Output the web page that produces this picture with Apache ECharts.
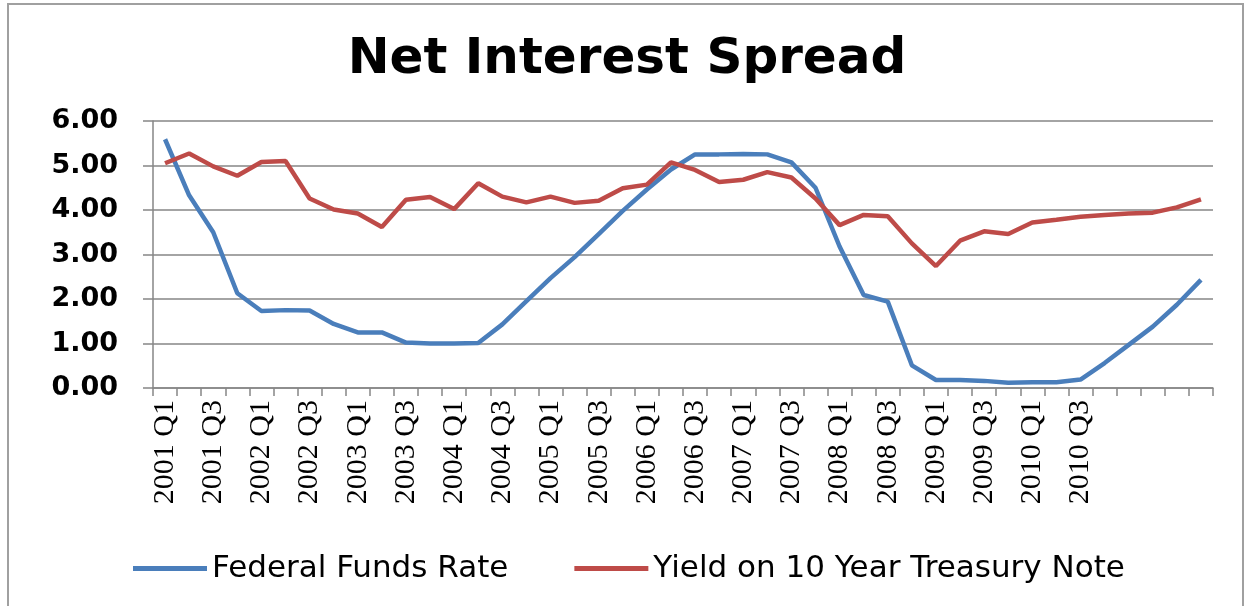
<!DOCTYPE html>
<html>
<head>
<meta charset="utf-8">
<script src="https://cdn.jsdelivr.net/npm/echarts@6/dist/echarts.min.js"></script>
<style>html,body{margin:0;padding:0;background:#fff}#c{width:1254px;height:606px}</style>
</head>
<body>
<div id="c"></div>
<script>
const chartTitle = 'Net Interest Spread';
const categories = [
  '2001 Q1','2001 Q2','2001 Q3','2001 Q4',
  '2002 Q1','2002 Q2','2002 Q3','2002 Q4',
  '2003 Q1','2003 Q2','2003 Q3','2003 Q4',
  '2004 Q1','2004 Q2','2004 Q3','2004 Q4',
  '2005 Q1','2005 Q2','2005 Q3','2005 Q4',
  '2006 Q1','2006 Q2','2006 Q3','2006 Q4',
  '2007 Q1','2007 Q2','2007 Q3','2007 Q4',
  '2008 Q1','2008 Q2','2008 Q3','2008 Q4',
  '2009 Q1','2009 Q2','2009 Q3','2009 Q4',
  '2010 Q1','2010 Q2','2010 Q3','2010 Q4',
  '','','',''
];
const seriesNames = ['Federal Funds Rate', 'Yield on 10 Year Treasury Note'];
const fedFunds = [5.59,4.33,3.50,2.13,1.73,1.75,1.74,1.44,1.25,1.25,1.02,1.00,1.00,1.01,1.43,1.95,
  2.47,2.94,3.46,3.98,4.46,4.91,5.25,5.25,5.26,5.25,5.07,4.50,3.18,2.09,1.94,0.51,
  0.18,0.18,0.16,0.12,0.13,0.13,0.19,0.56,0.97,1.38,1.87,2.43];
const treasury10 = [5.05,5.27,4.98,4.77,5.08,5.10,4.26,4.01,3.92,3.62,4.23,4.29,4.02,4.60,4.30,4.17,
  4.30,4.16,4.21,4.49,4.57,5.07,4.90,4.63,4.68,4.85,4.73,4.26,3.66,3.89,3.86,3.25,
  2.74,3.31,3.52,3.46,3.72,3.78,3.85,3.89,3.92,3.94,4.06,4.24];
const yTicks = {min: 0, max: 6, interval: 1};

const colors = ['#4A7EBB', '#BE4B48'];
const chart = echarts.init(document.getElementById('c'), null, {renderer: 'canvas'});
chart.setOption({
  animation: false,
  backgroundColor: '#ffffff',
  color: colors,
  title: {
    text: chartTitle,
    left: 'center',
    top: 30,
    textStyle: {fontFamily: 'DejaVu Sans', fontWeight: 'bold', fontSize: 50, color: '#000'}
  },
  graphic: [{
    type: 'rect', shape: {x: 8, y: 4, width: 1235, height: 610},
    style: {fill: 'none', stroke: '#a0a0a0', lineWidth: 2}, silent: true, z: -1
  }],
  legend: {
    top: 548,
    left: 128,
    itemGap: 66,
    itemWidth: 74,
    itemHeight: 5,
    icon: 'rect',
    textStyle: {fontFamily: 'DejaVu Sans', fontSize: 31, color: '#000'},
    data: seriesNames
  },
  grid: {left: 153, right: 41, top: 121, bottom: 218, containLabel: false},
  xAxis: {
    type: 'category',
    data: categories,
    boundaryGap: true,
    axisLine: {lineStyle: {color: '#868686', width: 1.5}},
    axisTick: {show: true, interval: 0, length: 8, lineStyle: {color: '#868686', width: 1.5}},
    axisLabel: {
      interval: 1, rotate: 90, margin: 12,
      fontFamily: 'Liberation Serif', fontSize: 30, color: '#000'
    }
  },
  yAxis: {
    type: 'value',
    min: yTicks.min, max: yTicks.max, interval: yTicks.interval,
    axisLine: {show: true, lineStyle: {color: '#868686', width: 1.5}},
    axisTick: {show: true, length: 10, lineStyle: {color: '#868686', width: 1.5}},
    splitLine: {show: true, lineStyle: {color: '#868686', width: 1.5}},
    axisLabel: {
      margin: 35,
      formatter: v => v.toFixed(2),
      fontFamily: 'DejaVu Sans', fontWeight: 'bold', fontSize: 27, color: '#000'
    }
  },
  series: [
    {name: seriesNames[0], type: 'line', data: fedFunds, symbol: 'none',
     lineStyle: {width: 4.5, color: colors[0]}, itemStyle: {color: colors[0]}},
    {name: seriesNames[1], type: 'line', data: treasury10, symbol: 'none',
     lineStyle: {width: 4.5, color: colors[1]}, itemStyle: {color: colors[1]}}
  ]
});
</script>
</body>
</html>
